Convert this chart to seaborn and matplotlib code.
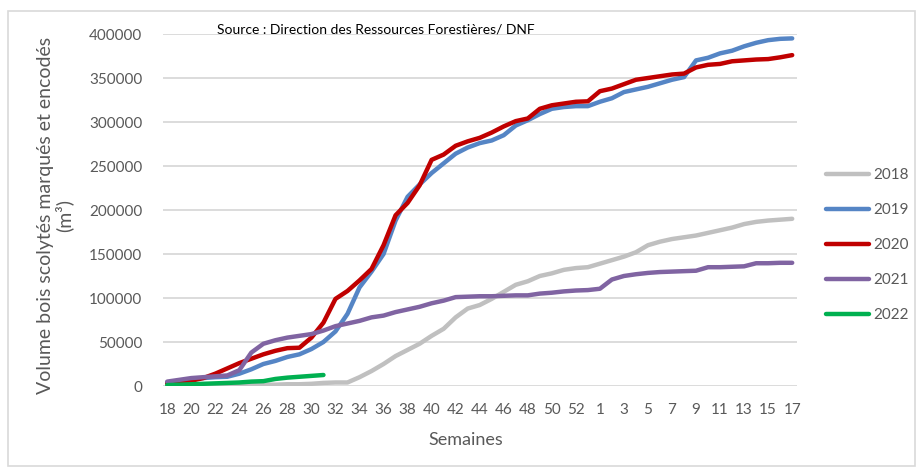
import matplotlib
matplotlib.use("Agg")
import matplotlib.pyplot as plt
import seaborn as sns
import pandas as pd
from matplotlib.patches import Rectangle

weeks = [str(w) for w in list(range(18, 54)) + list(range(1, 18))]
tick_labels = ["18", "20", "22", "24", "26", "28", "30", "32", "34", "36", "38", "40",
               "42", "44", "46", "48", "50", "52", "1", "3", "5", "7", "9", "11", "13", "15", "17"]

v2018 = [0, 0, 500, 500, 1000, 1000, 1000, 1500, 1500, 1500, 2000, 2000, 2500, 3500, 4000, 4000,
         10000, 17000, 25000, 34000, 41000, 48000, 57000, 65000, 78000, 88000, 92000, 99000,
         107000, 115000, 119000, 125000, 128000, 132000, 134000, 135000, 139000, 143000, 147000,
         152000, 160000, 164000, 167000, 169000, 171000, 174000, 177000, 180000, 184000, 186500,
         188000, 189000, 190000]
v2019 = [4000, 6000, 8000, 9000, 10000, 10500, 14000, 19000, 25000, 28500, 33000, 36000, 42000,
         50000, 62000, 82000, 112000, 130000, 150000, 188000, 215000, 229000, 242000, 253000,
         264000, 271000, 276000, 279000, 285000, 296000, 302000, 309000, 315000, 317000, 318000,
         318000, 323000, 327000, 334000, 337000, 340000, 344000, 348000, 351000, 370000, 373000,
         378000, 381000, 386000, 390000, 393000, 394500, 395000]
v2020 = [3000, 4000, 6000, 9000, 14000, 20000, 26000, 31000, 36000, 40000, 43000, 43500, 55000,
         72000, 99000, 108000, 120000, 133000, 160000, 194000, 208000, 228000, 257000, 263000,
         273000, 278000, 282000, 288000, 295000, 301000, 304000, 315000, 319000, 321000, 323000,
         323500, 335000, 338000, 343000, 348000, 350000, 352000, 354000, 355000, 362000, 365000,
         366000, 369000, 370000, 371000, 371500, 373500, 376000]
v2021 = [5000, 7000, 9000, 10000, 11000, 12000, 18000, 38000, 48000, 52000, 55000, 57000, 59000,
         63000, 68000, 71000, 74000, 78000, 80000, 84000, 87000, 90000, 94000, 97000, 101000,
         101500, 102000, 102000, 102500, 103000, 103000, 105000, 106000, 107500, 108500, 109000,
         110500, 121000, 125000, 127000, 128500, 129500, 130000, 130500, 131000, 135000, 135000,
         135500, 136000, 139500, 139500, 140000, 140000]
v2022 = [1000, 1500, 2000, 2500, 3000, 3500, 4000, 5000, 5500, 8000, 9500, 10500, 11500, 12500]

years = ["2018", "2019", "2020", "2021", "2022"]
series = [v2018, v2019, v2020, v2021, v2022]
colors = ["#C0C0C0", "#5585C5", "#C00000", "#8064A2", "#00B050"]

rows = []
for y, vals in zip(years, series):
    for i, v in enumerate(vals):
        rows.append({"idx": i, "week": weeks[i], "year": y, "value": v})
df = pd.DataFrame(rows)

sns.set_theme(style="white")
plt.rcParams["font.family"] = ["Lato", "DejaVu Sans"]
txt = "#595959"

fig = plt.figure(figsize=(9.22, 4.71), dpi=100)
W, H = 922, 471
ax = fig.add_axes([163 / W, 1 - 386 / H, (797 - 163) / W, (386 - 34) / H])

fig.patches.append(Rectangle((8 / W, 1 - 466 / H), (915 - 8) / W, (466 - 11) / H,
                             transform=fig.transFigure, fill=False, edgecolor="#D9D9D9",
                             linewidth=1.2))

sns.lineplot(data=df, x="idx", y="value", hue="year", palette=dict(zip(years, colors)),
             linewidth=3.2, ax=ax, legend=False, solid_capstyle="round")

ax.set_ylim(0, 400000)
ax.set_xlim(-0.35, 52.4)
ax.set_yticks(range(0, 400001, 50000))
ax.set_yticklabels([str(v) for v in range(0, 400001, 50000)])
ax.set_xticks(range(0, 53, 2))
ax.set_xticklabels(tick_labels)
ax.grid(axis="y", color="#D9D9D9", linewidth=1.3)
ax.set_axisbelow(True)
for s in ax.spines.values():
    s.set_visible(False)
ax.tick_params(axis="both", length=0, labelsize=11, labelcolor=txt)
ax.tick_params(axis="y", pad=15)
ax.tick_params(axis="x", pad=12)
ax.set_xlabel("")
ax.set_ylabel("")

fig.text(466 / W, 1 - 440 / H, "Semaines", ha="center", va="center", fontsize=13, color=txt)
fig.text(55 / W, 1 - 215 / H, "Volume bois scolytés marqués et encodés\n(m³)", rotation=90,
         ha="center", va="center", fontsize=14, color=txt, multialignment="center",
         linespacing=1.05)
fig.text(217 / W, 1 - 30 / H, "Source : Direction des Ressources Forestières/ DNF",
         ha="left", va="center", fontsize=10, color="#000000")

handles = [plt.Line2D([0], [0], color=c, linewidth=3.2, solid_capstyle="round") for c in colors]
leg = fig.legend(handles, years, loc="upper left", bbox_to_anchor=(826 / W, 1 - 168 / H),
                 frameon=False, fontsize=11, handlelength=2.8, handletextpad=0.3,
                 labelspacing=1.38, borderpad=0, borderaxespad=0)
for t in leg.get_texts():
    t.set_color(txt)

fig.savefig("out.png", dpi=100)
